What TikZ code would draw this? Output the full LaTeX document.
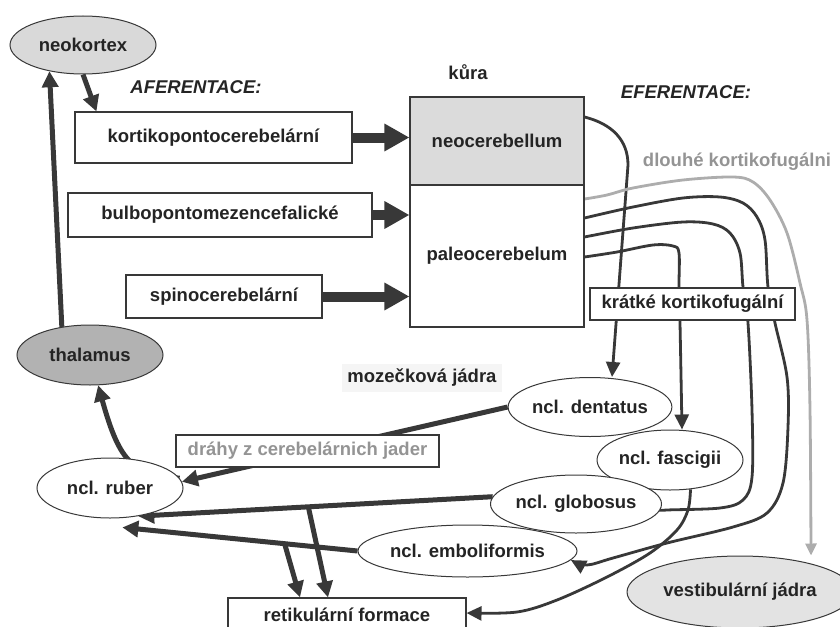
\documentclass[tikz,border=0pt]{standalone}
\usepackage{fontspec}
\setmainfont{Liberation Sans}
\usetikzlibrary{arrows.meta,shapes.geometric,calc}
\definecolor{dk}{gray}{0.22}
\definecolor{txt}{gray}{0.14}
\definecolor{lg}{gray}{0.58}
\definecolor{lgline}{gray}{0.68}
\pgfdeclarelayer{bg}
\pgfsetlayers{bg,main}
\begin{document}
\begin{tikzpicture}[x=1pt,y=-1pt,
  font=\fontsize{18.5}{22}\selectfont\bfseries, text=txt,
  bx/.style={draw=dk, line width=1.1pt, rectangle, inner sep=0pt, fill=white},
  ell/.style={draw=dk, line width=1pt, ellipse, inner sep=0pt, fill=white},
  fatarr/.style={draw=dk, line width=10pt, -{Triangle[length=25pt,width=26pt]}},
  medarr/.style={draw=dk, line width=5pt, -{Triangle[length=16pt,width=16pt]}},
  thinarr/.style={draw=dk, line width=2.8pt, -{Triangle[length=15pt,width=14pt]}},
  grayarr/.style={draw=lgline, line width=2.8pt, -{Triangle[length=12pt,width=11pt]}},
  lbl/.style={inner sep=1pt}
]
\useasboundingbox (0,0) rectangle (840,626);

% nodes
\node[ell, fill=gray!30, minimum width=146pt, minimum height=58pt] (neokortex) at (83,45) {neokortex};
\node[lbl] (afer) at (196,87) {\itshape AFERENTACE:};
\node[lbl] (efer) at (686,92) {\itshape EFERENTACE:};
\node[lbl] (kura) at (468,72) {kůra};
\node[lbl, text=lg] (dlouhe) at (737,162) {dlouhé kortikofugálni};

\node[bx, minimum width=277pt, minimum height=51pt] (korti) at (213.5,137.5) {kortikopontocerebelární};
\node[bx, minimum width=304pt, minimum height=44pt] (bulbo) at (220,215) {bulbopontomezencefalické};
\node[bx, minimum width=196pt, minimum height=43pt] (spino) at (224,296.5) {spinocerebelární};

\node[bx, fill=gray!28, minimum width=174pt, minimum height=88pt] (neo) at (497,141) {neocerebellum};
\node[bx, minimum width=174pt, minimum height=142pt] (paleo) at (497,256) {paleocerebelum};

\node[bx, minimum width=205pt, minimum height=32pt] (kratke) at (692.5,304) {krátké kortikofugální};
\node[lbl, fill=black!4, inner sep=5pt] (moz) at (422,378) {mozečková jádra};

\node[ell, minimum width=146pt, minimum height=59pt] (dent) at (590,407) {ncl. dentatus};
\node[ell, minimum width=146pt, minimum height=60pt] (fasc) at (670,460) {ncl. fascigii};
\node[ell, minimum width=146pt, minimum height=58pt] (glob) at (576,504) {ncl. globosus};
\node[ell, minimum width=219pt, minimum height=52pt] (embo) at (467.5,551) {ncl. emboliformis};
\node[ell, minimum width=146pt, minimum height=60pt] (ruber) at (110,488) {ncl. ruber};
\node[ell, fill=gray!60, minimum width=146pt, minimum height=60pt] (thal) at (90,355) {thalamus};
\node[bx, text=lg, minimum width=263pt, minimum height=32pt] (drahy) at (307.5,451) {dráhy z cerebelárnich jader};
\node[bx, minimum width=238pt, minimum height=34pt] (retik) at (347,615) {retikulární formace};
\node[ell, fill=gray!22, minimum width=226pt, minimum height=72pt] (vest) at (740,592) {vestibulární jádra};

\begin{pgfonlayer}{bg}
% afferent
\draw[fatarr] (korti.east) -- (korti.east -| neo.west);
\draw[fatarr] (bulbo.east) -- (bulbo.east -| paleo.west);
\draw[fatarr] (spino.east) -- (spino.east -| paleo.west);
\draw[medarr] (neokortex.south) -- ([xshift=22pt]korti.north west);
\draw[medarr] (thal.135) -- (neokortex.218);
\draw[medarr] (ruber.8) .. controls (133,474) and (120,464) .. (thal.-75);
\draw[medarr] (dent.west) -- (ruber.5);
\draw[medarr] (glob.175) -- coordinate[pos=0.52] (b1) (ruber.-45);
\draw[medarr] (embo.west) -- coordinate[pos=0.31] (b2) ([shift={(7pt,-9pt)}]ruber.-80);
\draw[medarr] (b1) -- ([xshift=-19pt]retik.north);
\draw[medarr] (b2) -- ([xshift=-47pt]retik.north);

% efferent
\draw[thinarr] ([yshift=24pt]neo.east) .. controls (612,124) and (628,140) .. (628,165) -- ([xshift=22pt]dent.north);
\draw[thinarr] plot[smooth, tension=0.55] coordinates {([yshift=38pt]paleo.east) (633,207) (683,198) (720,197) (743,203) (757,217) (765,240) (768,287) (775,323) (787,377) (788,427) (783,483) (767,513) (733,527) (667,543) (613,558) (587,565) (embo.-5)};
\draw[thinarr] plot[smooth, tension=0.55] coordinates {([yshift=19pt]paleo.east) (633,228) (683,222) (713,224) (730,233) (740,253) (743,287) (748,323) (752,410) (752,477) (743,500) (720,508) (667,510) (glob.-5)};
\draw[thinarr] plot[smooth, tension=0.55] coordinates {([yshift=-1pt]paleo.east) (617,252) (653,245) (673,246) (679,253) (679,287) (680,323) ([xshift=12pt]fasc.north)};
\draw[thinarr] plot[smooth, tension=0.55] coordinates {(fasc.-55) (688,510) (677,530) (650,553) (607,577) (557,600) (517,612) ([yshift=2pt]retik.east)};
\draw[grayarr] plot[smooth, tension=0.55] coordinates {([yshift=57pt]paleo.east) (607,195) (633,188) (683,180) (733,177) (753,182) (770,200) (787,233) (800,283) (807,320) (810,410) ([xshift=71pt]vest.north)};
\end{pgfonlayer}
\end{tikzpicture}
\end{document}
